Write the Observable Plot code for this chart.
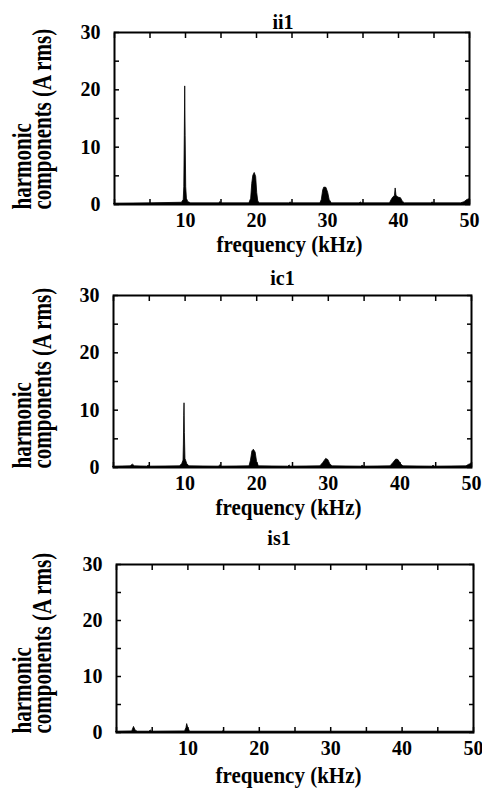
<!DOCTYPE html>
<html>
<head>
<meta charset="utf-8">
<script src="https://cdn.jsdelivr.net/npm/d3@7"></script>
<script src="https://cdn.jsdelivr.net/npm/@observablehq/plot@0.6"></script>
<style>
  html, body { margin: 0; padding: 0; background: #fff; }
  #chart { width: 482px; }
  #chart svg { display: block; }
</style>
</head>
<body>
<div id="chart"></div>
<script>
// ---- Data ----
const panelTitles = ["ii1", "ic1", "is1"];
const xAxisLabel = "frequency (kHz)";
const yAxisLabel = "harmonic\ncomponents (A rms)";
const xTickLabels = [10, 20, 30, 40, 50];
const yTickLabels = [0, 10, 20, 30];
const xMinorTicks = [0, 5, 10, 15, 20, 25, 30, 35, 40, 45, 50];
const yMinorTicks = [0, 5, 10, 15, 20, 25, 30];

// ii1 spectrum (kHz, A rms)
const ii1Freq = [0, 5, 9.5, 9.75, 9.83, 9.9, 9.96, 10.02, 10.1, 10.2, 10.4, 10.8,
  14.7, 14.9, 15.1, 19.0, 19.25, 19.4, 19.55, 19.75, 19.95, 20.1, 20.25, 20.5,
  24.6, 24.8, 25.0, 29.0, 29.2, 29.4, 29.55, 29.85, 30.1, 30.3, 30.6,
  34.5, 34.7, 34.9, 38.8, 39.0, 39.25, 39.5, 39.6, 39.72, 40.0, 40.35, 40.6, 40.9,
  44.6, 44.8, 45.0, 48.8, 49.3, 49.7, 50];
const ii1Amp = [0.15, 0.2, 0.3, 0.8, 3, 12, 20.6, 12, 3, 1.0, 0.4, 0.2,
  0.2, 0.4, 0.2, 0.2, 1.0, 3.6, 5.0, 5.5, 4.8, 2.0, 0.5, 0.2,
  0.2, 0.35, 0.2, 0.2, 0.8, 2.5, 2.95, 2.9, 2.0, 0.8, 0.2,
  0.2, 0.35, 0.2, 0.2, 0.7, 1.2, 1.5, 2.8, 1.5, 1.2, 1.1, 0.5, 0.2,
  0.2, 0.35, 0.2, 0.2, 0.4, 0.8, 0.9];

// ic1 spectrum
const ic1Freq = [0, 2.4, 2.7, 3.0, 4.7, 4.9, 5.1, 9.3, 9.6, 9.78, 9.83, 9.88, 9.92, 9.97, 10.05, 10.3, 10.6,
  14.7, 14.9, 15.1, 19.0, 19.2, 19.4, 19.6, 19.85, 20.05, 20.3,
  24.4, 24.6, 24.8, 28.9, 29.3, 29.7, 30.0, 30.3, 30.6,
  34.6, 34.8, 35.0, 38.7, 39.1, 39.5, 39.8, 40.2, 40.5,
  44.5, 44.7, 44.9, 49.3, 49.7, 50];
const ic1Amp = [0.15, 0.2, 0.5, 0.2, 0.15, 0.3, 0.15, 0.2, 0.6, 1.2, 4, 9, 11.2, 6, 1.5, 0.6, 0.2,
  0.15, 0.35, 0.15, 0.2, 1.2, 2.8, 3.1, 2.6, 1.0, 0.2,
  0.15, 0.35, 0.15, 0.2, 0.8, 1.5, 1.3, 0.5, 0.2,
  0.15, 0.3, 0.15, 0.2, 0.8, 1.4, 1.3, 0.5, 0.2,
  0.15, 0.3, 0.15, 0.2, 0.5, 0.6];

// is1 spectrum
const is1Freq = [0, 2.2, 2.45, 2.7, 3.0, 4.6, 4.8, 5.0, 9.6, 9.8, 9.9, 10.05, 10.3, 14.8, 15.0, 15.2, 50];
const is1Amp = [0.15, 0.2, 1.0, 0.3, 0.15, 0.15, 0.35, 0.15, 0.2, 0.8, 1.5, 0.8, 0.15, 0.15, 0.25, 0.15, 0.15];

// ---- Layout per panel ----
const panels = [
  {title: panelTitles[0], freq: ii1Freq, amp: ii1Amp, height: 262, mt: 32, mb: 58, ml: 114, mr: 13, tdx: -9, tdy: -10, xldx: -2.5, xldy: 40, yldy: 5},
  {title: panelTitles[1], freq: ic1Freq, amp: ic1Amp, height: 262, mt: 33, mb: 57, ml: 113, mr: 11, tdx: -10, tdy: -17, xldx: -4, xldy: 40, yldy: 1},
  {title: panelTitles[2], freq: is1Freq, amp: is1Amp, height: 265, mt: 40, mb: 57, ml: 116, mr: 9, tdx: -16, tdy: -26, xldx: -6.5, xldy: 43, yldy: 1}
];

const serif = "'Liberation Serif', 'Times New Roman', serif";
const container = document.getElementById("chart");

for (const p of panels) {
  const rows = p.freq.map((f, i) => ({f, a: p.amp[i]}));
  const chart = Plot.plot({
    width: 482,
    height: p.height,
    marginTop: p.mt,
    marginBottom: p.mb,
    marginLeft: p.ml,
    marginRight: p.mr,
    style: {fontFamily: serif, fontSize: "20px", fontWeight: "bold", color: "black", background: "white"},
    x: {domain: [0, 50]},
    y: {domain: [0, 30]},
    marks: [
      Plot.areaY(rows, {x: "f", y: "a", fill: "black", stroke: "black", strokeWidth: 0.8, curve: "linear"}),
      Plot.frame({stroke: "black", strokeWidth: 2}),
      // inward minor ticks on all four sides
      Plot.axisX(xMinorTicks, {anchor: "bottom", tickSize: -5, tickFormat: () => "", label: null, strokeWidth: 1.5}),
      Plot.axisX(xMinorTicks, {anchor: "top", tickSize: -5, tickFormat: () => "", label: null, strokeWidth: 1.5}),
      Plot.axisY(yMinorTicks, {anchor: "left", tickSize: -5, tickFormat: () => "", label: null, strokeWidth: 1.5}),
      Plot.axisY(yMinorTicks, {anchor: "right", tickSize: -5, tickFormat: () => "", label: null, strokeWidth: 1.5}),
      // tick labels
      Plot.axisX(xTickLabels, {anchor: "bottom", tickSize: 0, tickPadding: 8, label: null, fontSize: 20}),
      Plot.axisY(yTickLabels, {anchor: "left", tickSize: 0, tickPadding: 14, label: null, fontSize: 20}),
      // title
      Plot.text([p.title], {frameAnchor: "top", dx: p.tdx, dy: p.tdy, lineAnchor: "middle", fontSize: 20, fill: "black"}),
      // x axis label
      Plot.text([xAxisLabel], {frameAnchor: "bottom", dx: p.xldx, dy: p.xldy, lineAnchor: "middle", fontSize: 21, fill: "black"}),
      // y axis label (two lines, rotated)
      Plot.text([yAxisLabel], {frameAnchor: "bottom-left", dx: 16.5 - p.ml, dy: p.yldy, rotate: -90, textAnchor: "start", lineAnchor: "top", lineHeight: 0.72, fontSize: 21, fill: "black"})
    ]
  });
  // the scanned original's label glyphs are taller than wide: stretch them perpendicular to the text
  d3.select(chart).selectAll("text").each(function () {
    const t = this.textContent;
    const tr = this.getAttribute("transform");
    if (!tr) return;
    if (t === xAxisLabel) this.setAttribute("transform", tr + " scale(1,1.1)");
    else if (t.startsWith("harmonic")) this.setAttribute("transform", tr + " scale(1,1.3)");
  });
  container.appendChild(chart);
}
</script>
</body>
</html>
